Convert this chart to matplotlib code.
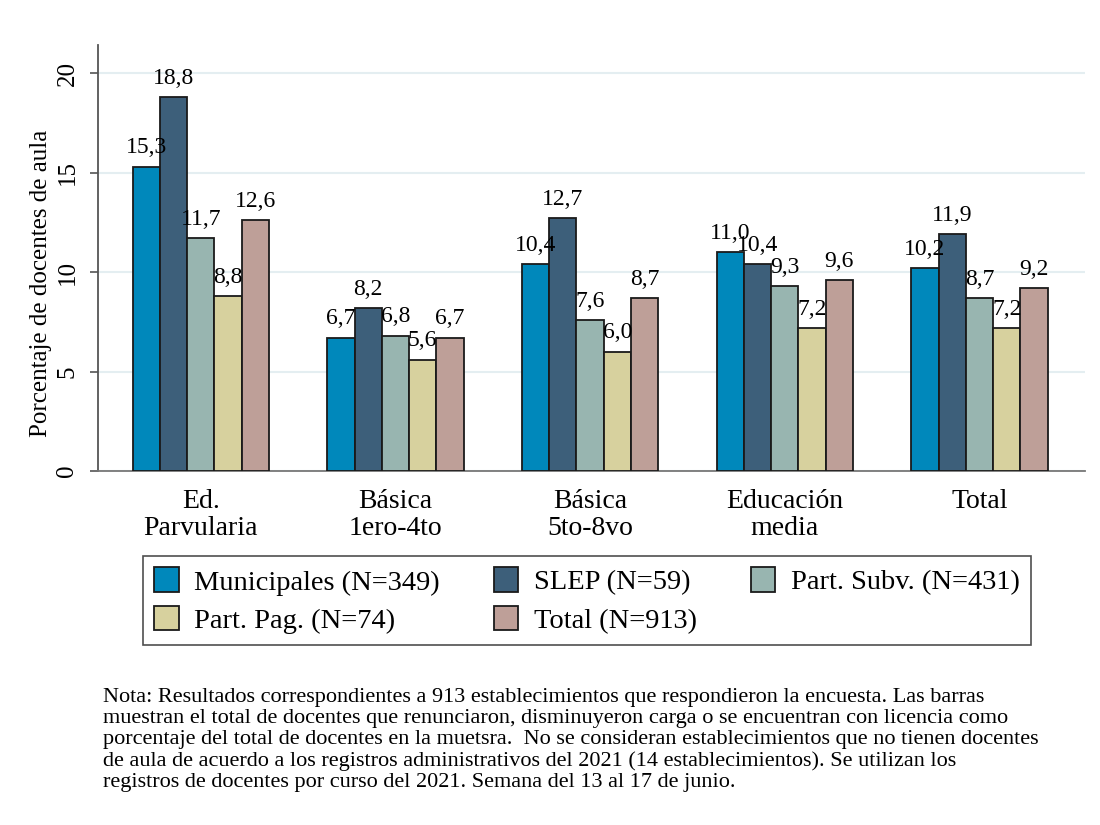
import numpy as np
import matplotlib.pyplot as plt
from matplotlib.patches import Patch

plt.rcParams['font.family'] = ['Liberation Serif', 'DejaVu Serif']

categories = ['Ed.\nParvularia', 'Básica\n1ero-4to', 'Básica\n5to-8vo', 'Educación\nmedia', 'Total']
series_names = ['Municipales (N=349)', 'SLEP (N=59)', 'Part. Subv. (N=431)',
                'Part. Pag. (N=74)', 'Total (N=913)']
municipales = [15.3, 6.7, 10.4, 11.0, 10.2]
slep = [18.8, 8.2, 12.7, 10.4, 11.9]
part_subv = [11.7, 6.8, 7.6, 9.3, 8.7]
part_pag = [8.8, 5.6, 6.0, 7.2, 7.2]
total = [12.6, 6.7, 8.7, 9.6, 9.2]
colors = ['#0088bb', '#3d5f7a', '#98b5b0', '#d7d19e', '#be9f98']

series = [municipales, slep, part_subv, part_pag, total]

fig = plt.figure(figsize=(11, 8.25), dpi=100)
ax = fig.add_axes([0.089, 0.429, 0.897, 0.516])

x = np.arange(len(categories))
width = 0.14
for i, vals in enumerate(series):
    pos = x + (i - 2) * width
    bars = ax.bar(pos, vals, width, color=colors[i], edgecolor='#1a1a1a',
                  linewidth=1.3, zorder=3)
    for b, v in zip(bars, vals):
        ax.annotate(f'{v:.1f}'.replace('.', ','),
                    (b.get_x() + b.get_width() / 2, v),
                    xytext=(0, 6), textcoords='offset points',
                    ha='center', va='bottom', fontsize=17, zorder=4)

ax.set_xlim(-0.528, 4.54)
ax.set_ylim(0, 21.4)
ax.set_yticks([0, 5, 10, 15, 20])
ax.set_yticklabels(['0', '5', '10', '15', '20'], rotation=90, va='center', fontsize=18)
ax.set_xticks(x)
ax.set_xticklabels(categories, fontsize=20, linespacing=1.1)
ax.tick_params(axis='x', length=0, pad=13)
ax.tick_params(axis='y', length=6, width=1.2, color='#555555', pad=8)
ax.set_ylabel('Porcentaje de docentes de aula', fontsize=18)
ax.yaxis.set_label_coords(-0.047, 0.44)

ax.grid(axis='y', color='#e4eef1', linewidth=1.5, zorder=0)
ax.set_axisbelow(True)
for s in ['top', 'right']:
    ax.spines[s].set_visible(False)
ax.spines['left'].set_color('#555555')
ax.spines['left'].set_linewidth(1.3)
ax.spines['bottom'].set_color('#777777')
ax.spines['bottom'].set_linewidth(1.3)

handles = [Patch(facecolor=c, edgecolor='#1a1a1a', linewidth=1.3) for c in colors]
order = [0, 3, 1, 4, 2]
leg = fig.legend([handles[k] for k in order], [series_names[k] for k in order],
                 ncol=3, loc='upper left', bbox_to_anchor=(0.13, 0.326),
                 fontsize=20.5, frameon=True, fancybox=False, edgecolor='#222222',
                 handlelength=0.85, handleheight=0.95, handletextpad=0.55,
                 columnspacing=1.9, labelspacing=0.36, borderpad=0.4,
                 borderaxespad=0)
leg.get_frame().set_linewidth(1.2)

nota = ('Nota: Resultados correspondientes a 913 establecimientos que respondieron la encuesta. Las barras\n'
        'muestran el total de docentes que renunciaron, disminuyeron carga o se encuentran con licencia como\n'
        'porcentaje del total de docentes en la muetsra.  No se consideran establecimientos que no tienen docentes\n'
        'de aula de acuerdo a los registros administrativos del 2021 (14 establecimientos). Se utilizan los\n'
        'registros de docentes por curso del 2021. Semana del 13 al 17 de junio.')
fig.text(0.094, 0.166, nota, fontsize=16, va='top', ha='left', linespacing=1.14)

fig.savefig('out.png', dpi=100, facecolor='white')
